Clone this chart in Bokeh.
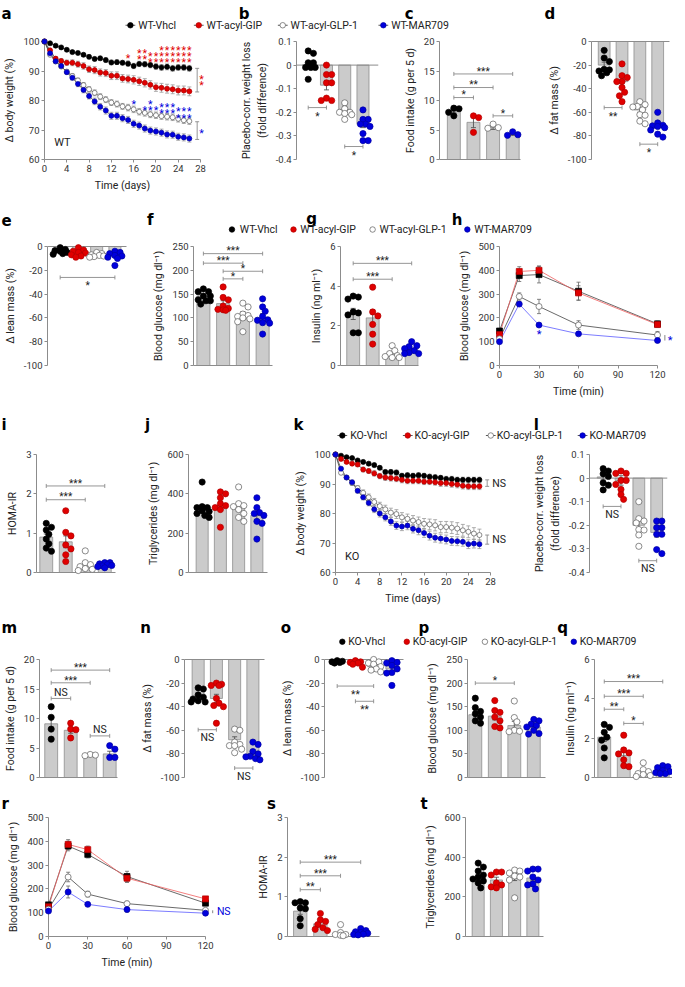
import math
from bokeh.plotting import figure
from bokeh.models import Range1d, FixedTicker, LinearAxis, Span
from bokeh.layouts import column, row
from bokeh.embed import file_html
from bokeh.resources import INLINE
from bokeh.core.properties import value

# ------------------------------------------------------------------ data
wt_names = ["WT-Vhcl", "WT-acyl-GIP", "WT-acyl-GLP-1", "WT-MAR709"]
ko_names = ["KO-Vhcl", "KO-acyl-GIP", "KO-acyl-GLP-1", "KO-MAR709"]

# (a) WT body weight
days = list(range(27))
a_vhcl = [100, 99.4, 98.6, 98.0, 97.2, 96.4, 96.1, 95.5, 94.8, 94.1, 94.3, 93.7, 92.9, 93.0, 92.8, 92.5, 91.7, 92.4, 92.3, 92.0, 91.5, 91.2, 91.4, 90.9, 91.2, 91.2, 90.9]
a_gip = [100, 97.0, 94.2, 93.4, 92.8, 92.8, 92.3, 91.7, 90.6, 90.3, 89.5, 89.3, 88.4, 88.4, 87.5, 87.3, 87.0, 86.5, 86.0, 85.3, 84.5, 84.3, 84.0, 83.8, 83.4, 83.4, 83.1]
a_glp1 = [100, 95.5, 93.2, 91.5, 89.8, 88.3, 86.8, 85.2, 83.8, 82.6, 81.3, 80.3, 79.3, 78.8, 78.0, 77.6, 77.0, 76.2, 75.8, 75.3, 75.0, 74.7, 74.5, 74.3, 73.8, 73.3, 73.0]
a_mar = [100, 96.0, 93.3, 91.7, 89.6, 87.7, 85.6, 83.6, 81.5, 79.7, 77.9, 76.6, 74.8, 74.8, 74.0, 73.4, 72.1, 71.5, 70.5, 69.8, 69.5, 69.1, 68.5, 68.4, 67.7, 67.5, 67.1]
a_vhcl_err = [0, .3, .4, .5, .5, .6, .6, .6, .7, .7, .7, .8, .8, .8, .8, .9, .9, .9, .9, .9, 1.0, 1.0, 1.0, 1.0, 1.0, 1.0, 1.0]
a_gip_err = [0, .5, .7, .8, .9, 1.0, 1.0, 1.1, 1.1, 1.2, 1.2, 1.2, 1.3, 1.3, 1.3, 1.3, 1.4, 1.4, 1.4, 1.4, 1.4, 1.5, 1.5, 1.5, 1.5, 1.5, 1.5]
a_glp1_err = [0, .4, .5, .6, .7, .8, .8, .9, .9, 1.0, 1.0, 1.0, 1.0, 1.0, 1.0, 1.1, 1.1, 1.1, 1.1, 1.1, 1.1, 1.1, 1.1, 1.1, 1.1, 1.1, 1.1]
a_mar_err = [0, .4, .5, .6, .7, .8, .9, 1.0, 1.0, 1.1, 1.1, 1.2, 1.2, 1.2, 1.2, 1.2, 1.2, 1.2, 1.2, 1.2, 1.2, 1.2, 1.2, 1.2, 1.2, 1.2, 1.2]
a_red_star_x = [15, 17, 17, 18, 18, 19, 19, 20, 20, 21, 21, 21, 22, 22, 22, 23, 23, 23, 24, 24, 24, 25, 25, 25, 26, 26, 26]
a_red_star_y = [95.2, 96.7, 94.8, 96.7, 94.8, 95.8, 93.7, 95.8, 93.7, 97.8, 95.8, 93.7, 97.8, 95.8, 93.7, 97.8, 95.8, 93.7, 97.8, 95.8, 93.7, 97.8, 95.8, 93.7, 97.8, 95.8, 93.7]
a_blue_star_x = [16, 18, 19, 19, 20, 21, 21, 22, 22, 23, 23, 24, 24, 25, 25, 26, 26]
a_blue_star_y = [79.6, 77.6, 79.6, 77.6, 77.6, 78.5, 76.3, 78.5, 76.3, 78.5, 76.3, 77.0, 74.9, 77.0, 74.9, 77.0, 74.9]

# (k) KO body weight
k_vhcl = [100, 99.6, 99.1, 98.8, 98.0, 97.5, 96.9, 96.4, 95.5, 94.1, 94.1, 93.9, 92.8, 93.0, 92.8, 93.0, 92.8, 92.5, 92.3, 92.1, 91.7, 91.7, 91.4, 91.4, 91.4, 91.4, 91.4]
k_gip = [100, 98.5, 97.5, 96.9, 96.6, 94.9, 94.4, 93.6, 92.7, 92.2, 92.0, 91.8, 91.4, 91.1, 91.1, 91.1, 90.8, 90.8, 90.6, 90.3, 90.3, 90.0, 89.8, 89.4, 89.2, 89.2, 89.2]
k_glp1 = [100, 93.8, 92.2, 90.3, 88.6, 87.0, 85.5, 83.9, 82.5, 81.4, 80.3, 79.8, 78.7, 78.2, 77.6, 77.1, 76.5, 76.3, 76.0, 75.4, 75.4, 75.2, 74.9, 74.3, 73.8, 73.2, 72.7]
k_mar = [100, 95.2, 92.2, 90.6, 87.7, 85.5, 83.6, 81.4, 80.0, 78.7, 77.3, 75.9, 75.6, 75.9, 74.8, 74.3, 73.4, 72.5, 71.8, 71.5, 71.2, 70.7, 70.6, 70.4, 69.6, 69.8, 69.6]
k_vhcl_err = [0, .3, .4, .5, .5, .6, .6, .7, .7, .7, .8, .8, .8, .8, .8, .8, .8, .8, .8, .8, .9, .9, .9, .9, .9, .9, .9]
k_gip_err = [0, .4, .5, .6, .7, .8, .8, .9, .9, 1.0, 1.0, 1.0, 1.0, 1.0, 1.0, 1.0, 1.0, 1.0, 1.0, 1.1, 1.1, 1.1, 1.1, 1.1, 1.1, 1.1, 1.1]
k_glp1_err = [0, .5, .6, .7, .8, 1.0, 1.1, 1.2, 1.3, 1.4, 1.5, 1.5, 1.6, 1.6, 1.7, 1.7, 1.8, 1.8, 1.9, 1.9, 1.9, 2.0, 2.0, 2.0, 2.0, 2.0, 2.0]
k_mar_err = [0, .5, .6, .7, .8, .9, 1.0, 1.1, 1.2, 1.2, 1.3, 1.3, 1.4, 1.4, 1.4, 1.5, 1.5, 1.5, 1.5, 1.5, 1.5, 1.5, 1.5, 1.5, 1.5, 1.5, 1.5]

# (h) WT glucose tolerance, (r) KO glucose tolerance
gtt_min = [0, 15, 30, 60, 120]
h_vhcl = [145, 378, 382, 312, 175]
h_gip = [130, 395, 400, 305, 172]
h_glp1 = [112, 290, 248, 170, 128]
h_mar = [100, 258, 170, 133, 105]
h_vhcl_err = [10, 25, 35, 38, 12]
h_gip_err = [8, 20, 18, 30, 10]
h_glp1_err = [8, 15, 30, 18, 15]
h_mar_err = [5, 8, 5, 5, 5]
r_vhcl = [133, 380, 345, 252, 140]
r_gip = [125, 387, 365, 245, 158]
r_glp1 = [115, 250, 178, 138, 110]
r_mar = [107, 187, 135, 113, 98]
r_vhcl_err = [8, 20, 15, 22, 8]
r_gip_err = [8, 20, 15, 18, 8]
r_glp1_err = [6, 20, 12, 10, 8]
r_mar_err = [5, 25, 6, 10, 6]

# bar panels: means, sems, individual animals (Vhcl, acyl-GIP, acyl-GLP-1, MAR709)
b_mean = [0.0, -0.085, -0.188, -0.25]
b_sem = [0.012, 0.02, 0.01, 0.015]
b_dots = [[0.06, 0.05, 0.01, 0.01, -0.01, -0.01, -0.01, -0.06],
          [0.0, -0.04, -0.04, -0.075, -0.075, -0.14, -0.15, -0.15],
          [-0.16, -0.185, -0.2, -0.2, -0.205, -0.21, -0.23],
          [-0.19, -0.23, -0.23, -0.25, -0.25, -0.26, -0.29, -0.32, -0.32]]
c_mean = [8.2, 6.3, 5.4, 4.3]
c_sem = [0.3, 0.9, 0.3, 0.2]
c_dots = [[8.7, 8.6, 8.0, 7.4], [7.4, 7.1, 4.6], [6.0, 5.4, 5.3], [4.7, 4.2, 4.1]]
d_mean = [-20, -34, -58, -71]
d_sem = [2.5, 3.5, 2.0, 2.2]
d_dots = [[-7.5, -14, -17, -23.5, -24, -25, -26.5, -29],
          [-19, -29, -30.5, -34, -34, -39, -43, -46, -51],
          [-51, -53.5, -55, -55.5, -58, -62, -62.5, -67.5, -69.7],
          [-60, -69, -71, -71.5, -72, -73, -75, -78.5, -81]]
e_mean = [-3.5, -5, -7, -8]
e_sem = [0.8, 1.0, 0.6, 1.3]
e_dots = [[-1, -2.5, -3.5, -4, -5, -6, -6.5],
          [-1, -3, -4, -5, -5.5, -7, -8, -9],
          [-5, -6, -7, -7.5, -8, -8.5, -9],
          [-4, -5, -6, -7.5, -8, -9, -10, -16]]
f_mean = [146, 130, 107, 101]
f_sem = [4, 6, 6, 8]
f_dots = [[161, 155, 155, 146, 146, 138, 136, 136, 129],
          [165, 143, 138, 125, 120, 118, 117, 116],
          [131, 123, 108, 105, 103, 100, 98, 92, 71],
          [140, 123, 114, 103, 96, 95, 90, 89, 66]]
g_mean = [2.6, 2.4, 0.58, 0.8]
g_sem = [0.28, 0.4, 0.1, 0.07]
g_dots = [[3.5, 3.45, 3.35, 2.7, 2.65, 2.55, 1.65, 1.65],
          [3.95, 2.7, 2.5, 2.07, 1.58, 1.08],
          [1.0, 0.75, 0.6, 0.5, 0.45, 0.4, 0.4],
          [1.2, 1.0, 0.95, 0.85, 0.75, 0.65, 0.6, 0.6]]
i_mean = [0.9, 0.78, 0.15, 0.17]
i_sem = [0.08, 0.15, 0.06, 0.02]
i_dots = [[1.25, 1.15, 1.08, 0.97, 0.85, 0.73, 0.62, 0.54],
          [1.57, 1.02, 0.93, 0.7, 0.6, 0.45, 0.28],
          [0.55, 0.25, 0.2, 0.15, 0.1, 0.08, 0.05],
          [0.25, 0.25, 0.22, 0.2, 0.18, 0.17, 0.15, 0.12]]
j_mean = [318, 340, 330, 290]
j_sem = [18, 22, 18, 20]
j_dots = [[460, 335, 330, 330, 315, 310, 300, 290, 280],
          [410, 400, 380, 350, 340, 330, 320, 230],
          [435, 350, 340, 335, 320, 300, 280, 260],
          [380, 330, 305, 300, 290, 260, 250, 170]]
l_mean = [0.005, -0.01, -0.2, -0.23]
l_sem = [0.012, 0.02, 0.02, 0.02]
l_dots = [[0.04, 0.03, 0.018, 0.007, -0.02, -0.03, -0.05],
          [0.03, 0.02, 0.02, -0.01, -0.01, -0.027, -0.048, -0.07, -0.09],
          [-0.1, -0.172, -0.182, -0.19, -0.218, -0.22, -0.241, -0.289],
          [-0.182, -0.182, -0.21, -0.21, -0.238, -0.238, -0.303, -0.32]]
m_mean = [9.1, 8.0, 3.75, 4.0]
m_sem = [1.1, 0.5, 0.1, 0.45]
m_dots = [[12.0, 10.2, 8.2, 6.5], [9.2, 8.2, 8.1, 6.7], [3.9, 3.8, 3.7], [5.4, 4.8, 3.4, 3.4]]
n_mean = [-31, -33, -68, -80]
n_sem = [1.5, 3.5, 2.5, 1.8]
n_dots = [[-24, -25, -30, -32, -33.5, -35, -36, -36],
          [-20, -21, -22, -22, -33, -37, -39, -40, -54],
          [-59, -60, -70, -72, -73, -73, -76, -79],
          [-70, -72, -78, -80, -82, -82.5, -84, -85]]
o_mean = [-2, -3.5, -6, -8]
o_sem = [0.5, 0.8, 1.2, 2.5]
o_dots = [[-1, -1.5, -2, -2.5, -3],
          [-1, -2, -2.5, -3, -4, -6.5],
          [0, -2, -3, -4, -6, -8, -9, -10.5],
          [-1, -2.5, -3, -5, -8, -11, -11.5, -22]]
p_mean = [133, 130, 110, 107]
p_sem = [7, 8, 9, 4]
p_dots = [[168, 148, 140, 135, 128, 120, 115],
          [163, 142, 138, 128, 120, 108, 105],
          [162, 127, 118, 100, 98, 97],
          [123, 120, 113, 110, 107, 100, 93, 92]]
q_mean = [2.05, 1.12, 0.25, 0.4]
q_sem = [0.22, 0.25, 0.1, 0.06]
q_dots = [[2.7, 2.55, 2.3, 2.05, 1.9, 1.5, 1.0],
          [2.15, 1.4, 1.25, 1.2, 0.9, 0.6, 0.55],
          [0.75, 0.4, 0.3, 0.2, 0.15, 0.1, 0.05],
          [0.6, 0.55, 0.5, 0.35, 0.3, 0.25, 0.2, 0.2]]
s_mean = [0.64, 0.32, 0.05, 0.08]
s_sem = [0.08, 0.06, 0.04, 0.02]
s_dots = [[0.88, 0.85, 0.85, 0.72, 0.7, 0.45, 0.27],
          [0.58, 0.42, 0.38, 0.3, 0.22, 0.18, 0.15],
          [0.3, 0.1, 0.05, 0.05, 0.03, 0.02],
          [0.2, 0.15, 0.12, 0.1, 0.08, 0.06, 0.05, 0.04]]
t_mean = [297, 285, 300, 295]
t_sem = [14, 14, 18, 14]
t_dots = [[370, 350, 330, 310, 300, 290, 280, 270, 245],
          [325, 325, 310, 270, 260, 250, 245],
          [335, 330, 320, 305, 300, 285, 195],
          [340, 340, 330, 300, 285, 265, 260, 240]]

# significance: (group i, group j, y, label)
b_sig = [(0, 1, -0.18, "*"), (2, 3, -0.345, "*")]
c_sig = [(0, 3, 14.5, "***"), (0, 2, 12.2, "**"), (0, 1, 10.5, "*"), (2, 3, 7.4, "*")]
d_sig = [(0, 1, -56, "**"), (2, 3, -87, "*")]
e_sig = [(0, 3, -26, "*")]
f_sig = [(0, 3, 235, "***"), (0, 2, 215, "***"), (1, 3, 198, "*"), (1, 2, 182, "*")]
g_sig = [(0, 3, 5.15, "***"), (0, 2, 4.35, "***")]
i_sig = [(0, 3, 2.2, "***"), (0, 2, 1.85, "***")]
l_sig = [(0, 1, -0.12, "NS"), (2, 3, -0.35, "NS")]
m_sig = [(0, 3, 18.2, "***"), (0, 2, 16.05, "***"), (0, 1, 13.4, "NS"), (2, 3, 7.05, "NS")]
n_sig = [(0, 1, -59.5, "NS"), (2, 3, -92, "NS")]
o_sig = [(0, 2, -22.5, "**"), (1, 2, -35.4, "**")]
p_sig = [(0, 2, 200, "*")]
q_sig = [(0, 3, 4.88, "***"), (0, 2, 4.13, "***"), (0, 1, 3.47, "**"), (1, 2, 2.75, "*")]
s_sig = [(0, 3, 1.875, "***"), (0, 2, 1.53, "***"), (0, 1, 1.18, "**")]

# ------------------------------------------------------------------ style / layout
SX = 669 / 685
SY = 969 / 987


def X(v):
    return int(round(v * SX))


def Y(v):
    return int(round(v * SY))


FONT = "Roboto"
TICK_FS = "9.5px"
LAB_FS = "10.5px"
AX_COL = "#8c8c8c"
BAR_FILL = "#cbcbcb"
BAR_LINE = "#8e8e8e"
ERR = "#555555"
BRK = "#8a8a8a"
FILL = ["#000000", "#e00000", "#ffffff", "#0000dd"]
EDGE = ["#000000", "#b00000", "#5a5a5a", "#0000a0"]
DOT = 6.2

# rows: (row start, frame top, frame bottom, row end, top border) in reference px
ROW1 = (0, 42, 162, 203, 8)
ROW2 = (203, 251, 372, 415, 8)
ROW3 = (415, 462, 583, 625, 8)
ROW4 = (625, 671, 791, 799, 8)
ROW5 = (799, 832, 953, 987, 6)


def new_fig(bounds, frame, rs, xr, yr):
    bl, br = bounds
    L, R = frame
    r0, ft, fb, r1, tb = rs
    p = figure(frame_width=X(R) - X(L), frame_height=Y(fb) - Y(ft), x_range=xr, y_range=yr,
               min_border_left=X(L) - X(bl), min_border_right=X(br) - X(R),
               min_border_top=Y(ft) - Y(ft - tb), min_border_bottom=Y(r1) - Y(fb),
               toolbar_location=None, output_backend="svg",
               x_axis_location=None, y_axis_location=None)
    p.grid.visible = False
    p.outline_line_color = None
    return p


def style_axis(ax):
    ax.axis_line_color = AX_COL
    ax.axis_line_width = 1
    ax.major_tick_line_color = AX_COL
    ax.major_tick_out = 3
    ax.major_tick_in = 0
    ax.minor_tick_line_color = None
    ax.major_label_text_font = FONT
    ax.major_label_text_font_size = TICK_FS
    ax.major_label_text_color = "#333333"
    ax.major_label_standoff = 2
    ax.axis_label_text_font = FONT
    ax.axis_label_text_font_size = LAB_FS
    ax.axis_label_text_font_style = "normal"
    ax.axis_label_text_color = "#222222"
    ax.axis_label_standoff = 4


def fmt(v):
    return "%g" % v


def add_yaxis(p, ticks, label):
    ax = LinearAxis(ticker=FixedTicker(ticks=ticks),
                    major_label_overrides={t: fmt(t) for t in ticks}, axis_label=label)
    style_axis(ax)
    p.add_layout(ax, "left")


def add_xaxis(p, ticks, label):
    ax = LinearAxis(ticker=FixedTicker(ticks=ticks),
                    major_label_overrides={t: fmt(t) for t in ticks}, axis_label=label)
    style_axis(ax)
    p.add_layout(ax, "below")


def add_xline(p, side):
    ax = LinearAxis(ticker=FixedTicker(ticks=[]))
    style_axis(ax)
    ax.major_tick_out = 0
    ax.major_label_text_font_size = "0px"
    ax.major_label_standoff = 0
    p.add_layout(ax, side)


def swarm(vals, ppy, ppx, diam):
    # simple beeswarm: horizontal offsets (px) limited to about the bar half width
    placed = []
    offs = []
    cands = [0.0, 2.6, -2.6, 5.2, -5.2, 7.0, -7.0]
    mind = diam * 0.8
    for v in vals:
        ypx = v * ppy
        best, best_d = 0.0, -1.0
        for c in cands:
            dmin = min([math.hypot(c - px, ypx - py) for px, py in placed] + [99.0])
            if dmin >= mind:
                best = c
                break
            if dmin > best_d:
                best, best_d = c, dmin
        placed.append((best, ypx))
        offs.append(best / ppx)
    return offs


def hbracket(p, x0, x1, y, lab, above):
    p.segment(x0=[x0], y0=[y], x1=[x1], y1=[y], line_color=BRK, line_width=0.9, level="overlay")
    p.scatter(x=[x0, x1], y=[y, y], marker="dash", angle=math.pi / 2, size=4,
              line_color=BRK, line_width=0.9, level="overlay")
    if lab.startswith("*"):
        fs, off = "10px", (-2.8 if above else 8.5)
    else:
        fs, off = "10.5px", (-6 if above else 8)
    p.text(x=[(x0 + x1) / 2], y=[y], text=[lab], text_align="center", text_baseline="middle",
           y_offset=off, text_font=value(FONT), text_font_size=fs, text_color="#222222", level="overlay")


def vbracket(p, x, y0, y1, col=BRK):
    p.segment(x0=[x], y0=[y0], x1=[x], y1=[y1], line_color=col, line_width=0.9, level="overlay")
    p.scatter(x=[x, x], y=[y0, y1], marker="dash", size=4, line_color=col, line_width=0.9, level="overlay")


def bar_panel(bounds, frame, rs, yr, yticks, ylabel, c0, dx, means, sems, dots, sigs,
              xside=None, zero=False, above=True):
    L, R = frame
    xr = Range1d((L - c0) / dx, (R - c0) / dx)
    p = new_fig(bounds, frame, rs, xr, Range1d(*yr))
    add_yaxis(p, yticks, ylabel)
    if xside:
        add_xline(p, xside)
    if zero:
        p.add_layout(Span(location=0, dimension="width", line_color=AX_COL, line_width=1))
    xs = [0, 1, 2, 3]
    p.vbar(x=xs, top=means, bottom=0, width=0.66, fill_color=BAR_FILL, line_color=BAR_LINE, line_width=0.8)
    lo = [m - s for m, s in zip(means, sems)]
    hi = [m + s for m, s in zip(means, sems)]
    p.segment(x0=xs, y0=lo, x1=xs, y1=hi, line_color=ERR, line_width=0.9, level="overlay")
    p.scatter(x=xs + xs, y=lo + hi, marker="dash", size=5, line_color=ERR, line_width=0.9, level="overlay")
    r0, ft, fb, r1, tb = rs
    ppy = (Y(fb) - Y(ft)) / (yr[1] - yr[0])
    ppx = (X(R) - X(L)) / ((R - L) / dx)
    for g in range(4):
        offs = swarm(dots[g], ppy, ppx, DOT)
        p.scatter(x=[g + o for o in offs], y=dots[g], size=DOT, fill_color=FILL[g],
                  line_color=EDGE[g], line_width=0.7, level="overlay")
    for (i, j, y, lab) in sigs:
        hbracket(p, i, j, y, lab, above)
    return p


def ts_panel(bounds, frame, rs, xr, yr, xticks, yticks, xlabel, ylabel, t, ys, es,
             msize, markers, line_cols, err_col):
    p = new_fig(bounds, frame, rs, Range1d(*xr), Range1d(*yr))
    add_yaxis(p, yticks, ylabel)
    add_xaxis(p, xticks, xlabel)
    for g in range(4):
        lo = [v - e for v, e in zip(ys[g], es[g])]
        hi = [v + e for v, e in zip(ys[g], es[g])]
        p.segment(x0=t, y0=lo, x1=t, y1=hi, line_color=err_col, line_width=0.8, level="overlay")
        p.scatter(x=t + t, y=lo + hi, marker="dash", size=4, line_color=err_col, line_width=0.8, level="overlay")
    for g in range(4):
        p.line(t, ys[g], line_color=line_cols[g], line_width=0.8, level="overlay")
    for g in range(4):
        p.scatter(t, ys[g], marker=markers[g], size=msize, fill_color=FILL[g], line_color=EDGE[g],
                  line_width=0.7, level="overlay")
    return p


def header(rs, letters, legend=None):
    r0, ft, fb, r1, tb = rs
    hb = ft - tb
    p = figure(frame_width=X(685), frame_height=Y(hb) - Y(r0), x_range=Range1d(0, 685),
               y_range=Range1d(hb, r0), min_border_left=0, min_border_right=0,
               min_border_top=0, min_border_bottom=0, toolbar_location=None,
               output_backend="svg", x_axis_location=None, y_axis_location=None)
    p.grid.visible = False
    p.outline_line_color = None
    p.text(x=[l[1] for l in letters], y=[l[2] for l in letters], text=[l[0] for l in letters],
           text_font=value("DejaVu Sans"), text_font_style="bold", text_font_size="15px",
           text_baseline="alphabetic", text_align="left", text_color="#000000")
    if legend:
        names, mx, tx, y, with_line = legend
        for k in range(4):
            if with_line:
                p.segment(x0=[mx[k] - 5], y0=[y], x1=[mx[k] + 5], y1=[y], line_color="#444444", line_width=0.9)
            p.scatter(x=[mx[k]], y=[y], size=5.5, fill_color=FILL[k], line_color=EDGE[k], line_width=0.7)
        p.text(x=tx, y=[y] * 4, text=names, text_font=value(FONT), text_font_size="10.5px",
               text_baseline="middle", text_align="left", text_color="#222222")
    return p


GLU = "Blood glucose (mg dl\u207b\u00b9)"
INS = "Insulin (ng ml\u207b\u00b9)"
TG = "Triglycerides (mg dl\u207b\u00b9)"
PLC = "Placebo-corr. weight loss\n(fold difference)"
t_days = [0, 4, 8, 12, 16, 20, 24, 28]
t_min = [0, 30, 60, 90, 120]
bw_ticks = [60, 70, 80, 90, 100]
neg100 = [-100, -80, -60, -40, -20, 0]
plc_ticks = [-0.4, -0.3, -0.2, -0.1, 0, 0.1]
glu_ticks = [0, 50, 100, 150, 200, 250]
gtt_ticks = [0, 100, 200, 300, 400, 500]

# ------------------------------------------------------------------ row 1
h1 = header(ROW1, [("a", 1, 14), ("b", 244, 14), ("c", 414, 14), ("d", 557, 14)],
            (wt_names, [133, 203, 289, 392], [141, 211, 297, 400], 25.5, True))

pa = ts_panel((0, 230), (43, 203), ROW1, (0, 28), (60, 100), t_days, bw_ticks, "Time (days)",
              "\u0394 body weight (%)", days, [a_vhcl, a_gip, a_glp1, a_mar],
              [a_vhcl_err, a_gip_err, a_glp1_err, a_mar_err], 5,
              ["circle"] * 4, ["#444444"] * 4, "#9a9a9a")
pa.text(x=a_red_star_x, y=a_red_star_y, text=["*"] * len(a_red_star_x), text_align="center",
        text_baseline="middle", y_offset=2.5, text_font=value(FONT), text_font_size="10.5px",
        text_color="#e00000", level="overlay")
pa.text(x=a_blue_star_x, y=a_blue_star_y, text=["*"] * len(a_blue_star_x), text_align="center",
        text_baseline="middle", y_offset=2.5, text_font=value(FONT), text_font_size="10.5px",
        text_color="#0000dd", level="overlay")
vbracket(pa, 27.4, 82.9, 90.9)
vbracket(pa, 27.4, 66.8, 72.8)
pa.text(x=[28.2, 28.2, 28.2], y=[88.0, 86.0, 69.6], text=["*", "*", "*"], text_align="center",
        text_baseline="middle", y_offset=2.5, text_font=value(FONT), text_font_size="10.5px",
        text_color=["#e00000", "#e00000", "#0000dd"], level="overlay")
pa.text(x=[3.2], y=[65.8], text=["WT"], text_align="center", text_baseline="middle",
        text_font=value(FONT), text_font_size="11px", text_color="#222222", level="overlay")

pb = bar_panel((230, 398), (301, 385), ROW1, (-0.4, 0.1), plc_ticks, PLC, 313, 18.7,
               b_mean, b_sem, b_dots, b_sig, zero=True, above=False)
pc = bar_panel((398, 545), (447, 530), ROW1, (0, 20), [0, 5, 10, 15, 20], "Food intake (g per 5 d)",
               461.7, 20.1, c_mean, c_sem, c_dots, c_sig, xside="below", above=True)
pd = bar_panel((545, 685), (603, 683), ROW1, (-100, 0), neg100, "\u0394 fat mass (%)", 616, 18.3,
               d_mean, d_sem, d_dots, d_sig, xside="above", above=False)

# ------------------------------------------------------------------ row 2
h2 = header(ROW2, [("e", 1, 223), ("f", 150, 223), ("g", 313, 222), ("h", 462, 223)],
            (wt_names, [237, 300, 381, 478], [245, 307, 388, 485], 233, False))
pe = bar_panel((0, 140), (43, 124), ROW2, (-100, 0), neg100, "\u0394 lean mass (%)", 56, 18.7,
               e_mean, e_sem, e_dots, e_sig, xside="above", above=False)
pf = bar_panel((140, 300), (193, 273), ROW2, (0, 250), glu_ticks, GLU, 203, 20,
               f_mean, f_sem, f_dots, f_sig, xside="below", above=True)
pg = bar_panel((300, 445), (343, 423), ROW2, (0, 6), [0, 2, 4, 6], INS, 356, 20,
               g_mean, g_sem, g_dots, g_sig, xside="below", above=True)
ph = ts_panel((445, 685), (506, 668), ROW2, (0, 120), (0, 500), t_min, gtt_ticks, "Time (min)", GLU,
              gtt_min, [h_vhcl, h_gip, h_glp1, h_mar], [h_vhcl_err, h_gip_err, h_glp1_err, h_mar_err],
              6, ["square", "square", "circle", "circle"], ["#444444", "#f06060", "#444444", "#5a5aff"], "#666666")
vbracket(ph, 125.6, 105, 128, "#777777")
ph.text(x=[129.5, 30], y=[116, 140], text=["*", "*"], text_align="center", text_baseline="middle",
        y_offset=2.5, text_font=value(FONT), text_font_size="11px", text_color="#0000dd", level="overlay")

# ------------------------------------------------------------------ row 3
h3 = header(ROW3, [("i", 1, 432), ("j", 148, 432), ("k", 300, 432), ("l", 546, 432)],
            (ko_names, [350, 417, 502, 596], [358, 424, 508, 603], 443, True))
pi = bar_panel((0, 135), (37, 118), ROW3, (0, 3), [0, 1, 2, 3], "HOMA-IR", 47, 20,
               i_mean, i_sem, i_dots, i_sig, xside="below", above=True)
pj = bar_panel((135, 290), (192, 273), ROW3, (0, 600), [0, 200, 400, 600], TG, 206, 18.7,
               j_mean, j_sem, j_dots, [], xside="below", above=True)
pk = ts_panel((290, 530), (343, 502), ROW3, (0, 28), (60, 100), t_days, bw_ticks, "Time (days)",
              "\u0394 body weight (%)", days, [k_vhcl, k_gip, k_glp1, k_mar],
              [k_vhcl_err, k_gip_err, k_glp1_err, k_mar_err], 5,
              ["circle"] * 4, ["#444444"] * 4, "#9a9a9a")
vbracket(pk, 27.4, 89.2, 91.4)
vbracket(pk, 27.4, 69.6, 72.7)
pk.text(x=[28.3, 28.3], y=[90.3, 71.2], text=["NS", "NS"], text_align="left", text_baseline="middle",
        text_font=value(FONT), text_font_size="10.5px", text_color="#222222", level="overlay")
pk.text(x=[3.0], y=[65.4], text=["KO"], text_align="center", text_baseline="middle",
        text_font=value(FONT), text_font_size="11px", text_color="#222222", level="overlay")
pl = bar_panel((530, 685), (603, 683), ROW3, (-0.4, 0.1), plc_ticks, PLC, 617, 18.3,
               l_mean, l_sem, l_dots, l_sig, zero=True, above=False)

# ------------------------------------------------------------------ row 4
h4 = header(ROW4, [("m", 1, 639), ("n", 143, 639), ("o", 287, 639), ("p", 428, 639), ("q", 570, 639)],
            (ko_names, [350, 416, 496, 587], [356, 422, 502, 593], 653, False))
pm = bar_panel((0, 130), (37, 117), ROW4, (0, 20), [0, 5, 10, 15, 20], "Food intake (g per 5 d)", 49, 20,
               m_mean, m_sem, m_dots, m_sig, xside="below", above=True)
pn = bar_panel((130, 280), (185, 267), ROW4, (-100, 0), neg100, "\u0394 fat mass (%)", 199, 18.7,
               n_mean, n_sem, n_dots, n_sig, xside="above", above=False)
po = bar_panel((280, 420), (329, 410), ROW4, (-100, 0), neg100, "\u0394 lean mass (%)", 342, 18.7,
               o_mean, o_sem, o_dots, o_sig, xside="above", above=False)
pp = bar_panel((420, 565), (475, 555), ROW4, (0, 250), glu_ticks, GLU, 483, 20,
               p_mean, p_sem, p_dots, p_sig, xside="below", above=True)
pq = bar_panel((565, 685), (605, 685), ROW4, (0, 6), [0, 2, 4, 6], INS, 615, 20,
               q_mean, q_sem, q_dots, q_sig, xside="below", above=True)

# ------------------------------------------------------------------ row 5
h5 = header(ROW5, [("r", 1, 818), ("s", 273, 818), ("t", 430, 818)])
pr = ts_panel((0, 260), (49, 210), ROW5, (0, 120), (0, 500), t_min, gtt_ticks, "Time (min)", GLU,
              gtt_min, [r_vhcl, r_gip, r_glp1, r_mar], [r_vhcl_err, r_gip_err, r_glp1_err, r_mar_err],
              6, ["square", "square", "circle", "circle"], ["#444444", "#f06060", "#444444", "#5a5aff"], "#666666")
vbracket(pr, 125.5, 98, 110, "#777777")
pr.text(x=[128.7], y=[104], text=["NS"], text_align="left", text_baseline="middle",
        text_font=value(FONT), text_font_size="10.5px", text_color="#0000dd", level="overlay")
ps = bar_panel((260, 420), (293, 387), ROW5, (0, 3), [0, 1, 2, 3], "HOMA-IR", 306, 20.6,
               s_mean, s_sem, s_dots, s_sig, xside="below", above=True)
pt = bar_panel((420, 685), (475, 555), ROW5, (0, 600), [0, 200, 400, 600], TG, 488, 18.7,
               t_mean, t_sem, t_dots, [], xside="below", above=True)

layout = column(h1, row(pa, pb, pc, pd), h2, row(pe, pf, pg, ph), h3, row(pi, pj, pk, pl),
                h4, row(pm, pn, po, pp, pq), h5, row(pr, ps, pt))

with open("out.html", "w") as fh:
    fh.write(file_html(layout, INLINE, "Figure"))
